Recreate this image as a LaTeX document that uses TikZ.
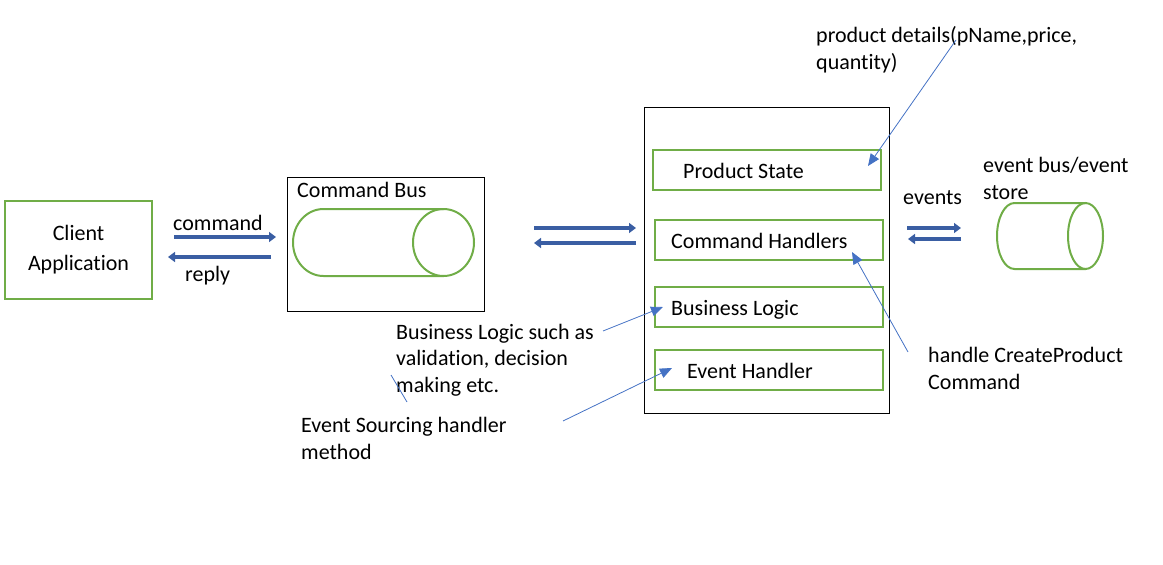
\documentclass[tikz,border=0pt]{standalone}
\usepackage{fontspec}
\setmainfont{Carlito}[Ligatures=NoCommon]
\usepackage{tikz}
\usetikzlibrary{arrows.meta}
\definecolor{boxgreen}{HTML}{70AD47}
\definecolor{fatblue}{HTML}{3A5EA3}
\definecolor{noteblue}{HTML}{4472C4}

\begin{document}
\begin{tikzpicture}[x=1pt,y=-1pt,
  txt/.style={inner sep=0pt,anchor=base west,align=left,font=\fontsize{22}{26.5}\selectfont},
  greenbox/.style={draw=boxgreen,line width=2pt,inner sep=0pt},
  blackbox/.style={draw=black,line width=1pt,inner sep=0pt},
  fat/.style={draw=fatblue,line width=4.5pt,-{Triangle[length=7pt,width=10pt]}},
  note/.style={draw=noteblue,line width=0.8pt,-{Triangle[length=12pt,width=10pt]}}]
\useasboundingbox (0,0) rectangle (1163,565);
\node[greenbox,minimum width=147pt,minimum height=98pt,align=center,font=\fontsize{22}{30}\selectfont] (client) at (78.5,250) {\raisebox{-3pt}{Client}\\\raisebox{-3pt}{Application}};
\node[blackbox,minimum width=197pt,minimum height=134pt] (bus) at (385.5,244) {};
\node[blackbox,minimum width=245pt,minimum height=306pt] (agg) at (766.5,260) {};
\node[greenbox,minimum width=228pt,minimum height=40pt] (state) at (767,170) {};
\node[greenbox,minimum width=228pt,minimum height=40pt] (cmdh) at (769,240) {};
\node[greenbox,minimum width=228pt,minimum height=40pt] (logic) at (769,307) {};
\node[greenbox,minimum width=228pt,minimum height=40pt] (evh) at (769,370) {};
\draw[draw=boxgreen,line width=2pt] (443.5,209) -- (323.5,209) arc[start angle=-90,end angle=-270,x radius=30.5,y radius=33.5] -- (443.5,276);
\draw[draw=boxgreen,line width=2pt] (443.5,242.5) ellipse [x radius=30.5,y radius=33.5];
\draw[draw=boxgreen,line width=2pt] (1085.5,203) -- (1014.5,203) arc[start angle=-90,end angle=-270,x radius=17.5,y radius=33] -- (1085.5,269);
\draw[draw=boxgreen,line width=2pt] (1085.5,236) ellipse [x radius=17.5,y radius=33];
\node[txt] (lcmd) at (173,230) {command};
\node[txt] (lreply) at (185,281) {reply};
\node[txt] (lbus) at (297,197) {Command Bus};
\node[txt] (lstate) at (683,178) {Product State};
\node[txt] (lcmdh) at (671,248) {Command Handlers};
\node[txt] (llogic) at (671,315) {Business Logic};
\node[txt] (levh) at (687,378) {Event Handler};
\node[txt] (levents) at (903,204) {events};
\node[txt] (lstore) at (983,199) {event bus/event\\store};
\node[txt] (ldetails) at (816,69) {product details(pName,price,\\quantity)};
\node[txt] (nlogic) at (396,392) {Business Logic such as\\validation, decision\\making etc.};
\node[txt] (nsource) at (301,459) {Event Sourcing handler\\method};
\node[txt] (nhandle) at (928,389) {handle CreateProduct\\Command};
\coordinate (a1) at (174,237);
\coordinate (a2) at (276,237);
\coordinate (a3) at (271,257);
\coordinate (a4) at (168,257);
\coordinate (b1) at (534,228);
\coordinate (b2) at (636,228);
\coordinate (b3) at (636,243);
\coordinate (b4) at (534,243);
\coordinate (e1) at (907,228);
\coordinate (e2) at (961,228);
\coordinate (e3) at (961,239);
\coordinate (e4) at (908,239);
\draw[fat] (a1) -- (a2);
\draw[fat] (a3) -- (a4);
\draw[fat] (b1) -- (b2);
\draw[fat] (b3) -- (b4);
\draw[fat] (e1) -- (e2);
\draw[fat] (e3) -- (e4);
\coordinate (t1) at (956,40);
\coordinate (h1) at (868,166);
\coordinate (t2) at (908,352);
\coordinate (h2) at (852,252);
\coordinate (t3) at (603,331);
\coordinate (h3) at (663,307);
\coordinate (t4) at (563,421);
\coordinate (h4) at (672,368);
\coordinate (s1) at (391,375);
\coordinate (s2) at (407,402);
\draw[note] (t1) -- (h1);
\draw[note] (t2) -- (h2);
\draw[note] (t3) -- (h3);
\draw[note] (t4) -- (h4);
\draw[draw=noteblue,line width=0.8pt] (s1) -- (s2);
\end{tikzpicture}
\end{document}
